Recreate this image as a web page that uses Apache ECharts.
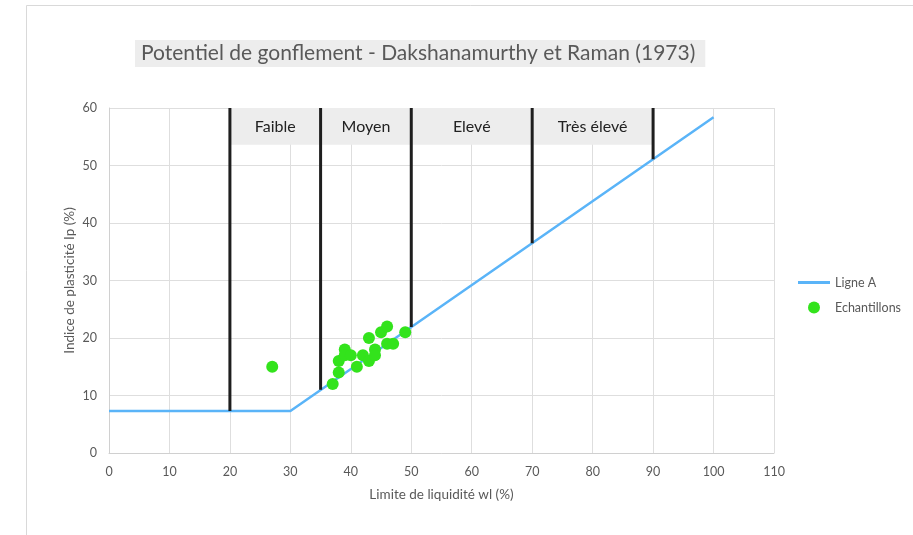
<!DOCTYPE html>
<html>
<head>
<meta charset="utf-8">
<script src="https://cdn.jsdelivr.net/npm/echarts@6/dist/echarts.min.js"></script>
<style>
  html, body { margin: 0; padding: 0; background: #fff; }
  #chart { width: 913px; height: 535px; }
</style>
</head>
<body>
<div id="chart"></div>
<script>
// Ligne A
const ligneAX = [0, 30, 100]
const ligneAY = [7.3, 7.3, 58.4]

// zone boundaries (vertical lines) and where they meet Ligne A
const boundX = [20, 35, 50, 70, 90]
const boundBottom = [7.3, 11, 21.9, 36.5, 51.1]
const boundTop = 60

// zone labels between boundaries
const zoneLabels = ['Faible', 'Moyen', 'Elevé', 'Très élevé']
const zoneLabelBottom = 53.6

// samples
const sampleWl = [27, 37, 38, 38, 39, 39, 40, 41, 42, 43, 43, 44, 44, 45, 46, 46, 47, 49]
const sampleIp = [15, 12, 14, 16, 18, 17, 17, 15, 17, 16, 20, 18, 17, 21, 22, 19, 19, 21]

const xTicks = { min: 0, max: 110, interval: 10 }
const yTicks = { min: 0, max: 60, interval: 10 }

const font = 'Lato, "Open Sans", sans-serif'
const chart = echarts.init(document.getElementById('chart'))

const boundSeries = boundX.map((x, i) => ({
  type: 'line',
  data: [[x, boundBottom[i]], [x, boundTop]],
  symbol: 'none',
  lineStyle: { color: '#1e1e1e', width: 3 },
  silent: true,
  z: 3
}))

const option = {
  animation: false,
  backgroundColor: '#fff',
  textStyle: { fontFamily: font },
  title: {
    text: 'Potentiel de gonflement - Dakshanamurthy et Raman (1973)',
    left: 135,
    top: 40,
    backgroundColor: '#ededed',
    padding: [3, 10, 3, 6],
    textStyle: { fontFamily: font, fontSize: 21, fontWeight: 'normal', color: '#595959' }
  },
  graphic: [{
    type: 'rect',
    shape: { x: 26.5, y: 5.5, width: 920, height: 560 },
    style: { fill: 'none', stroke: '#d9d9d9', lineWidth: 1 },
    silent: true
  }],
  legend: {
    orient: 'vertical',
    left: 793,
    top: 271,
    itemGap: 12,
    itemWidth: 32,
    itemHeight: 12,
    textStyle: { fontFamily: font, fontSize: 12.5, color: '#595959' },
    data: [
      { name: 'Ligne A', icon: 'path://M0,0H32V3H0Z' },
      { name: 'Echantillons', icon: 'circle' }
    ]
  },
  grid: { left: 109, right: 139, top: 108, bottom: 82 },
  xAxis: {
    type: 'value',
    min: xTicks.min, max: xTicks.max, interval: xTicks.interval,
    name: 'Limite de liquidité wl (%)',
    nameLocation: 'middle',
    nameGap: 35,
    nameTextStyle: { fontFamily: font, fontSize: 13.5, color: '#595959' },
    axisLine: { show: true, lineStyle: { color: '#d0d0d0' } },
    axisTick: { show: false },
    axisLabel: { fontFamily: font, fontSize: 12.5, color: '#595959', margin: 12 },
    splitLine: { show: true, lineStyle: { color: '#dedede' } }
  },
  yAxis: {
    type: 'value',
    min: yTicks.min, max: yTicks.max, interval: yTicks.interval,
    name: 'Indice de plasticité Ip (%)',
    nameLocation: 'middle',
    nameGap: 32,
    nameMoveOverlap: false,
    nameTextStyle: { fontFamily: font, fontSize: 13.5, color: '#595959' },
    axisLine: { show: true, lineStyle: { color: '#d0d0d0' } },
    axisTick: { show: false },
    axisLabel: { fontFamily: font, fontSize: 12.5, color: '#595959', margin: 12 },
    splitLine: { show: true, lineStyle: { color: '#dedede' } }
  },
  series: [
    {
      name: 'Ligne A',
      type: 'line',
      data: ligneAX.map((x, i) => [x, ligneAY[i]]),
      symbol: 'none',
      lineStyle: { color: '#5ab4f8', width: 2.5 },
      itemStyle: { color: '#5ab4f8' },
      z: 2,
      markArea: {
        silent: true,
        itemStyle: { color: '#ededed' },
        label: {
          position: 'inside',
          fontFamily: font,
          fontSize: 16,
          color: '#222'
        },
        data: zoneLabels.map((name, i) => [
          { name: name, coord: [boundX[i], zoneLabelBottom] },
          { coord: [boundX[i + 1], boundTop] }
        ])
      }
    },
    ...boundSeries,
    {
      name: 'Echantillons',
      type: 'scatter',
      data: sampleWl.map((x, i) => [x, sampleIp[i]]),
      symbolSize: 12,
      itemStyle: { color: '#33e31c', opacity: 1 },
      z: 4
    }
  ]
}

chart.setOption(option)
</script>
</body>
</html>
